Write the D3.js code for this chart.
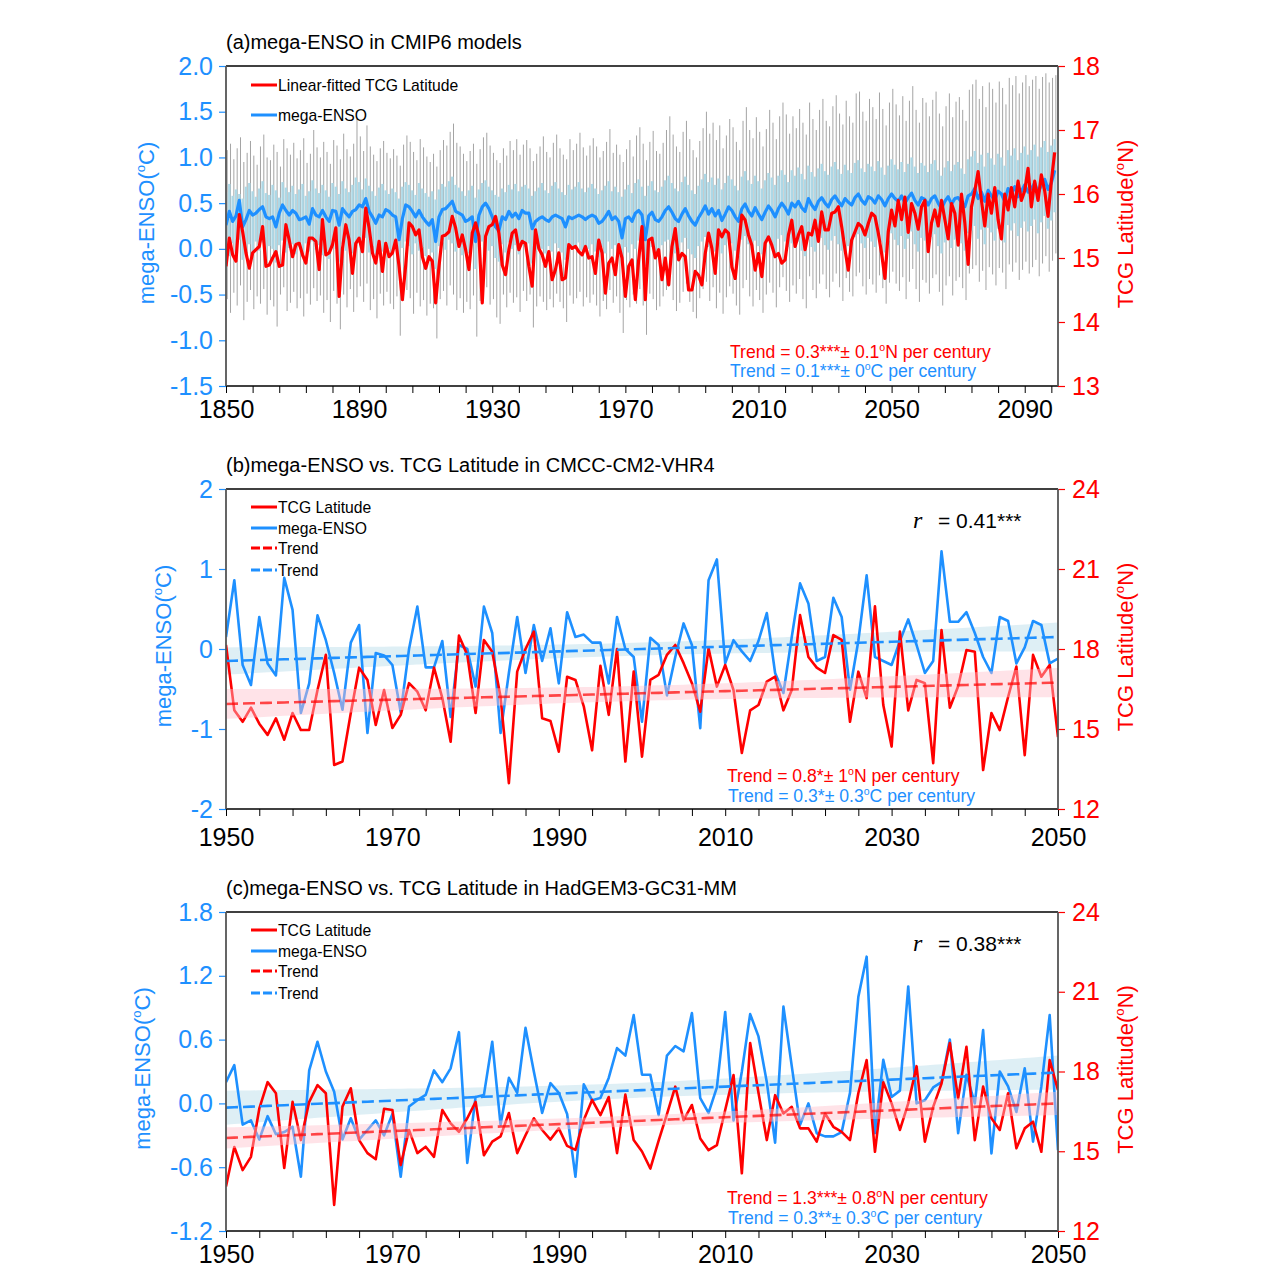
<!DOCTYPE html>
<html lang="en">
<head>
<meta charset="UTF-8">
<title>mega-ENSO and TCG Latitude</title>
<script src="https://cdn.jsdelivr.net/npm/d3@7"></script>
<style>
  body { margin: 0; background: #fff; }
  svg { font-family: "Liberation Sans", Arial, Helvetica, sans-serif; }
</style>
</head>
<body>
<svg id="svg" width="1269" height="1269"></svg>
<script>
// ---------- panel (a): CMIP6 multi-model, 1850-2099 ----------
const yearsA = d3.range(1850, 2100)
const megaEnsoA = [
  0.26,0.41,0.30,0.36,0.53,0.24,0.32,0.42,0.37,0.39,
  0.43,0.46,0.35,0.33,0.35,0.24,0.39,0.48,0.42,0.37,
  0.42,0.39,0.32,0.33,0.35,0.27,0.44,0.37,0.35,0.42,
  0.35,0.30,0.42,0.41,0.26,0.44,0.39,0.35,0.41,0.43,
  0.48,0.46,0.55,0.41,0.35,0.28,0.37,0.35,0.43,0.41,
  0.37,0.35,0.10,0.33,0.48,0.46,0.41,0.35,0.42,0.35,
  0.30,0.26,0.32,0.08,0.35,0.43,0.44,0.48,0.52,0.41,
  0.39,0.37,0.30,0.32,0.35,0.08,0.37,0.46,0.50,0.44,
  0.35,0.24,0.20,0.35,0.32,0.41,0.35,0.39,0.33,0.42,
  0.39,0.39,0.22,0.30,0.33,0.35,0.32,0.30,0.35,0.37,
  0.35,0.33,0.24,0.35,0.33,0.35,0.37,0.35,0.32,0.35,
  0.37,0.35,0.28,0.30,0.35,0.41,0.32,0.35,0.30,0.12,
  0.33,0.35,0.30,0.39,0.42,0.37,0.10,0.36,0.40,0.32,
  0.30,0.35,0.42,0.46,0.40,0.33,0.30,0.38,0.44,0.36,
  0.30,0.26,0.34,0.40,0.47,0.38,0.44,0.36,0.42,0.31,
  0.38,0.46,0.42,0.35,0.30,0.44,0.49,0.41,0.36,0.45,
  0.38,0.32,0.40,0.47,0.42,0.35,0.44,0.50,0.45,0.38,
  0.50,0.46,0.52,0.45,0.41,0.55,0.48,0.43,0.52,0.56,
  0.50,0.46,0.54,0.58,0.52,0.47,0.55,0.51,0.48,0.56,
  0.60,0.53,0.49,0.57,0.55,0.50,0.58,0.54,0.47,0.55,
  0.60,0.55,0.52,0.58,0.50,0.56,0.61,0.53,0.48,0.56,
  0.54,0.48,0.55,0.58,0.50,0.44,0.52,0.57,0.49,0.55,
  0.56,0.51,0.46,0.58,0.60,0.66,0.55,0.62,0.52,0.64,
  0.58,0.53,0.63,0.60,0.52,0.66,0.61,0.68,0.57,0.63,
  0.70,0.62,0.66,0.72,0.61,0.70,0.76,0.65,0.72,0.86
]
const tcgLatA = [
  14.87,15.31,15.05,14.95,15.68,15.41,15.08,14.84,15.08,15.13,
  15.18,15.49,14.87,14.89,15.00,15.10,14.87,14.89,15.52,15.28,
  15.02,15.21,15.23,15.05,14.92,15.31,15.31,15.26,14.82,15.60,
  15.05,15.08,15.21,15.47,14.40,15.15,15.52,15.28,14.76,15.23,
  15.31,15.10,15.78,15.47,15.08,14.92,15.26,14.79,15.23,15.02,
  15.08,15.28,14.87,14.35,14.89,15.55,15.49,15.36,15.44,15.02,
  14.84,15.02,14.95,14.30,14.87,15.34,15.36,15.41,15.65,15.47,
  15.18,15.36,15.13,14.82,15.39,15.55,15.34,14.30,15.34,15.49,
  15.52,15.65,15.39,14.89,14.74,15.13,15.39,15.44,15.13,15.26,
  15.23,14.87,14.56,15.44,15.15,15.05,14.87,15.10,14.66,14.82,
  15.08,14.66,14.69,15.21,15.15,15.18,15.10,15.05,15.18,15.00,
  15.02,14.76,15.28,15.08,14.45,14.92,15.00,14.74,15.21,15.00,
  14.40,14.87,14.97,14.35,14.97,15.49,14.35,15.28,15.31,15.00,
  15.13,14.66,15.00,14.58,15.18,15.46,14.97,15.07,15.02,14.50,
  14.50,14.79,14.73,14.58,15.07,15.39,15.15,14.76,15.44,15.33,
  15.44,15.39,14.86,14.68,15.18,15.67,15.59,15.36,15.20,14.81,
  15.07,14.71,15.23,15.33,15.20,15.02,15.07,14.92,14.97,15.36,
  15.59,15.18,15.36,15.49,15.13,15.39,15.36,15.59,15.26,15.72,
  15.44,15.44,15.70,15.72,15.80,15.49,15.13,14.81,15.28,15.41,
  15.54,15.49,15.36,15.54,15.70,15.65,15.39,15.07,14.68,15.41,
  15.75,15.50,15.90,15.60,15.95,15.40,15.85,15.70,15.45,15.80,
  15.90,15.10,15.55,15.75,15.50,15.90,15.60,15.30,15.85,15.70,
  15.20,16.00,15.55,14.90,15.80,16.05,16.35,15.90,15.50,16.00,
  15.70,16.10,15.60,15.30,16.00,15.75,16.10,15.80,16.20,15.90,
  16.05,16.40,15.80,16.20,15.90,16.30,16.05,15.65,16.20,16.65
]
// model spread: box 25-75 %, whiskers min-max
const boxTopA = [
  0.62,0.71,0.58,0.65,0.60,0.55,0.68,0.72,0.63,0.57,
  0.66,0.74,0.61,0.59,0.70,0.64,0.56,0.73,0.67,0.62,
  0.69,0.60,0.65,0.71,0.58,0.63,0.75,0.66,0.61,0.70,
  0.64,0.57,0.72,0.68,0.60,0.74,0.66,0.62,0.70,0.78,
  0.73,0.65,0.77,0.69,0.63,0.58,0.67,0.71,0.64,0.60,
  0.66,0.62,0.55,0.68,0.73,0.70,0.64,0.59,0.72,0.66,
  0.61,0.57,0.63,0.54,0.65,0.71,0.68,0.74,0.79,0.70,
  0.67,0.63,0.58,0.64,0.69,0.56,0.65,0.72,0.75,0.68,
  0.64,0.59,0.57,0.66,0.62,0.70,0.65,0.71,0.63,0.68,
  0.70,0.66,0.58,0.63,0.67,0.72,0.64,0.61,0.69,0.73,
  0.66,0.62,0.59,0.70,0.65,0.68,0.73,0.66,0.62,0.67,
  0.71,0.66,0.60,0.64,0.69,0.74,0.63,0.68,0.62,0.57,
  0.65,0.70,0.61,0.72,0.76,0.68,0.58,0.69,0.74,0.64,
  0.62,0.68,0.75,0.80,0.72,0.66,0.63,0.73,0.79,0.70,
  0.64,0.60,0.69,0.76,0.82,0.73,0.78,0.70,0.77,0.65,
  0.72,0.80,0.76,0.69,0.64,0.79,0.85,0.75,0.71,0.80,
  0.74,0.66,0.75,0.83,0.78,0.70,0.80,0.86,0.81,0.73,
  0.86,0.80,0.89,0.82,0.76,0.91,0.84,0.79,0.88,0.93,
  0.85,0.81,0.90,0.95,0.87,0.82,0.92,0.86,0.83,0.94,
  0.97,0.88,0.84,0.93,0.90,0.85,0.96,0.89,0.81,0.91,
  0.98,0.92,0.87,0.95,0.84,0.93,1.00,0.90,0.83,0.94,
  0.91,0.84,0.93,0.97,0.86,0.80,0.89,0.96,0.85,0.92,
  0.95,0.88,0.82,0.98,1.01,1.07,0.94,1.03,0.90,1.05,
  0.99,0.92,1.04,1.00,0.91,1.08,1.02,1.10,0.97,1.05,
  1.12,1.03,1.08,1.14,1.01,1.11,1.18,1.06,1.13,1.20
]
const boxBotA = [
  0.02,-0.08,0.06,-0.03,0.10,-0.12,0.00,0.05,-0.05,0.08,
  -0.02,0.07,-0.10,0.03,0.00,-0.15,0.04,0.09,-0.04,0.01,
  0.05,-0.06,0.02,-0.09,0.06,-0.03,0.08,-0.01,0.04,-0.07,
  0.03,-0.11,0.07,0.00,-0.14,0.05,-0.02,0.09,-0.05,0.06,
  0.10,0.02,0.12,-0.04,0.03,-0.10,0.05,-0.03,0.07,0.00,
  -0.05,0.04,-0.20,0.01,0.08,0.03,-0.06,0.06,-0.02,0.02,
  -0.08,0.00,-0.04,-0.22,0.03,0.07,-0.01,0.10,0.06,-0.03,
  0.04,-0.07,0.01,-0.05,0.05,-0.22,0.02,0.08,0.12,-0.02,
  0.03,-0.10,-0.14,0.05,-0.04,0.07,0.00,0.04,-0.06,0.08,
  0.02,0.06,-0.16,-0.02,0.04,0.00,-0.05,0.03,-0.03,0.06,
  0.01,-0.04,-0.12,0.05,0.00,0.03,0.07,-0.02,0.04,0.00,
  0.05,-0.03,-0.09,0.02,-0.05,0.08,0.00,0.04,-0.07,-0.18,
  0.02,-0.04,0.05,0.00,0.09,-0.03,-0.19,0.06,0.02,-0.06,
  -0.02,0.04,0.08,0.10,0.02,-0.05,0.01,0.07,0.12,0.00,
  -0.06,-0.10,0.03,0.08,0.13,0.02,0.09,-0.03,0.07,-0.05,
  0.04,0.11,0.06,-0.02,-0.08,0.10,0.14,0.05,-0.01,0.09,
  0.03,-0.06,0.07,0.13,0.04,-0.04,0.11,0.15,0.08,0.02,
  0.06,0.01,0.08,-0.02,-0.08,0.10,0.02,-0.03,0.07,0.12,
  0.04,-0.01,0.09,0.14,0.05,-0.02,0.11,0.03,0.00,0.13,
  0.16,0.06,0.01,0.12,0.08,0.02,0.15,0.07,-0.04,0.09,
  0.17,0.10,0.04,0.14,0.00,0.11,0.19,0.05,-0.03,0.12,
  0.09,0.02,0.13,0.16,0.03,-0.05,0.07,0.15,0.01,0.10,
  0.14,0.06,-0.02,0.17,0.20,0.25,0.11,0.21,0.05,0.23,
  0.18,0.09,0.22,0.19,0.07,0.26,0.20,0.28,0.14,0.23,
  0.30,0.19,0.25,0.32,0.17,0.29,0.36,0.22,0.31,0.40
]
const whiskHiA = [
  1.08,1.15,0.98,1.10,1.22,0.95,1.05,1.18,1.02,0.92,
  1.12,1.25,1.00,0.97,1.14,1.06,0.90,1.20,1.10,1.03,
  1.16,0.99,1.08,1.21,0.94,1.04,1.30,1.11,1.00,1.17,
  1.06,0.93,1.19,1.13,0.98,1.26,1.09,1.01,1.15,1.42,
  1.23,1.07,1.35,1.12,1.03,0.96,1.10,1.18,1.05,0.99,
  1.09,1.02,0.91,1.14,1.24,1.17,1.06,0.97,1.20,1.11,
  1.01,0.95,1.04,0.90,1.08,1.19,1.13,1.28,1.37,1.16,
  1.12,1.04,0.96,1.07,1.15,0.93,1.09,1.22,1.27,1.13,
  1.05,0.97,0.94,1.10,1.02,1.18,1.08,1.20,1.03,1.14,
  1.19,1.10,0.96,1.04,1.12,1.23,1.06,1.00,1.16,1.25,
  1.10,1.03,0.98,1.20,1.08,1.15,1.27,1.11,1.02,1.13,
  1.21,1.12,1.00,1.07,1.17,1.31,1.05,1.14,1.03,0.95,
  1.09,1.19,1.01,1.24,1.33,1.15,0.97,1.17,1.29,1.07,
  1.04,1.16,1.30,1.45,1.25,1.12,1.06,1.28,1.40,1.20,
  1.08,1.00,1.18,1.32,1.50,1.26,1.38,1.19,1.35,1.10,
  1.24,1.42,1.33,1.17,1.08,1.40,1.55,1.30,1.21,1.44,
  1.28,1.12,1.31,1.52,1.38,1.20,1.45,1.60,1.47,1.26,
  1.45,1.32,1.53,1.38,1.25,1.60,1.42,1.30,1.52,1.64,
  1.40,1.34,1.56,1.68,1.48,1.36,1.62,1.45,1.38,1.70,
  1.72,1.50,1.40,1.64,1.55,1.42,1.71,1.53,1.35,1.60,
  1.75,1.58,1.46,1.67,1.40,1.62,1.78,1.52,1.38,1.65,
  1.60,1.45,1.63,1.72,1.48,1.34,1.56,1.70,1.44,1.61,
  1.66,1.52,1.40,1.74,1.80,1.85,1.64,1.78,1.55,1.82,
  1.75,1.60,1.83,1.76,1.58,1.87,1.79,1.89,1.70,1.82,
  1.90,1.78,1.85,1.89,1.75,1.88,1.92,1.82,1.87,1.90
]
const whiskLoA = [
  -0.55,-0.70,-0.48,-0.62,-0.40,-0.78,-0.58,-0.45,-0.66,-0.52,
  -0.60,-0.44,-0.72,-0.56,-0.63,-0.85,-0.50,-0.42,-0.68,-0.59,
  -0.47,-0.65,-0.54,-0.74,-0.49,-0.61,-0.43,-0.57,-0.51,-0.70,
  -0.56,-0.80,-0.46,-0.60,-0.88,-0.50,-0.64,-0.44,-0.69,-0.53,
  -0.41,-0.58,-0.38,-0.67,-0.55,-0.76,-0.49,-0.62,-0.47,-0.60,
  -0.66,-0.52,-0.95,-0.57,-0.45,-0.54,-0.71,-0.48,-0.63,-0.56,
  -0.73,-0.60,-0.65,-0.98,-0.55,-0.46,-0.62,-0.40,-0.50,-0.67,
  -0.54,-0.70,-0.58,-0.66,-0.51,-0.96,-0.57,-0.47,-0.42,-0.61,
  -0.55,-0.75,-0.82,-0.50,-0.64,-0.48,-0.59,-0.53,-0.69,-0.46,
  -0.57,-0.50,-0.86,-0.63,-0.52,-0.58,-0.67,-0.55,-0.64,-0.49,
  -0.58,-0.65,-0.80,-0.51,-0.60,-0.54,-0.47,-0.63,-0.53,-0.59,
  -0.50,-0.62,-0.74,-0.57,-0.66,-0.45,-0.59,-0.52,-0.70,-0.92,
  -0.56,-0.64,-0.50,-0.60,-0.44,-0.62,-0.94,-0.49,-0.55,-0.67,
  -0.63,-0.52,-0.45,-0.40,-0.56,-0.68,-0.59,-0.47,-0.38,-0.58,
  -0.69,-0.76,-0.54,-0.44,-0.36,-0.57,-0.42,-0.65,-0.48,-0.71,
  -0.53,-0.41,-0.49,-0.62,-0.72,-0.43,-0.34,-0.52,-0.63,-0.45,
  -0.56,-0.70,-0.50,-0.37,-0.48,-0.64,-0.42,-0.31,-0.46,-0.58,
  -0.40,-0.49,-0.33,-0.55,-0.65,-0.30,-0.45,-0.54,-0.38,-0.28,
  -0.44,-0.53,-0.36,-0.27,-0.42,-0.57,-0.32,-0.47,-0.52,-0.30,
  -0.26,-0.41,-0.50,-0.33,-0.39,-0.48,-0.29,-0.43,-0.60,-0.37,
  -0.25,-0.38,-0.46,-0.31,-0.55,-0.36,-0.22,-0.44,-0.58,-0.34,
  -0.37,-0.49,-0.32,-0.28,-0.47,-0.62,-0.40,-0.30,-0.51,-0.35,
  -0.31,-0.43,-0.56,-0.27,-0.22,-0.18,-0.36,-0.24,-0.45,-0.20,
  -0.28,-0.40,-0.21,-0.26,-0.44,-0.17,-0.25,-0.15,-0.34,-0.23,
  -0.14,-0.27,-0.20,-0.12,-0.30,-0.16,-0.08,-0.25,-0.13,-0.05
]

// ---------- panels (b) and (c): single models, 1950-2050 ----------
const yearsBC = d3.range(1950, 2051)
const megaEnsoB = [
  0.15,0.86,-0.20,-0.45,0.40,-0.18,-0.33,0.89,0.49,-0.80,
  -0.43,0.42,0.11,-0.30,-0.76,0.08,0.30,-1.05,-0.05,-0.08,
  -0.20,-0.79,0.00,0.53,-0.23,-0.23,0.10,-0.85,0.05,0.00,
  -0.47,0.53,0.20,-1.05,-0.30,0.40,-0.30,0.30,-0.15,0.26,
  -0.43,0.46,0.15,0.18,0.08,0.08,-0.43,0.40,0.00,-0.10,
  -0.91,0.14,0.05,-0.58,-0.10,0.32,0.05,-0.99,0.86,1.12,
  -0.18,0.11,-0.03,-0.15,0.10,0.45,-0.30,-0.55,0.15,0.82,
  0.57,-0.15,-0.10,0.64,0.40,-0.51,0.10,0.92,-0.10,-0.15,
  -0.20,0.10,0.37,0.05,-0.30,-0.15,1.22,0.34,0.34,0.46,
  0.20,-0.10,-0.30,0.40,0.35,-0.18,0.02,0.35,0.30,-0.18,
  -0.12
]
const tcgLatB = [
  18.15,15.70,15.27,15.80,15.20,14.78,15.40,14.60,15.60,14.96,
  14.96,16.46,17.78,13.65,13.78,15.60,17.30,16.84,15.15,16.46,
  15.04,15.53,16.72,16.40,15.70,17.30,16.16,14.52,18.50,17.78,
  15.60,18.34,17.90,16.20,12.97,17.15,18.00,18.65,15.40,15.30,
  14.15,16.96,16.84,15.85,14.20,17.37,15.53,18.00,13.78,17.15,
  13.96,16.84,17.03,17.78,18.15,17.47,16.72,15.65,18.03,16.59,
  17.40,16.46,14.10,15.70,15.90,16.78,16.96,15.70,16.46,19.27,
  17.70,17.30,17.10,18.52,18.34,15.27,17.15,16.16,19.60,15.90,
  14.34,18.65,15.70,16.84,16.72,13.72,18.71,15.80,16.60,17.96,
  17.90,13.46,15.60,14.96,16.20,17.34,14.02,17.78,16.96,17.40,
  14.70
]
const megaEnsoC = [
  0.20,0.36,-0.20,-0.16,-0.34,-0.12,-0.29,-0.27,-0.22,-0.69,
  0.31,0.58,0.30,0.11,-0.34,-0.14,-0.34,-0.25,-0.16,-0.30,
  -0.10,-0.69,-0.03,0.03,0.08,0.31,0.20,0.33,0.67,-0.56,
  0.06,0.08,0.58,-0.20,0.24,0.10,0.71,0.30,-0.09,0.19,
  0.10,-0.10,-0.69,0.18,0.03,0.05,0.24,0.52,0.45,0.83,
  0.27,0.27,-0.11,0.45,0.54,0.49,0.85,0.05,-0.09,0.15,
  0.86,-0.16,0.30,0.84,0.63,0.20,-0.37,0.91,0.35,-0.20,
  0.00,-0.28,-0.31,-0.31,-0.27,0.10,1.00,1.38,-0.28,0.41,
  0.06,0.12,1.10,0.00,0.03,0.15,0.20,0.60,-0.28,0.27,
  0.00,0.69,-0.47,0.30,0.16,-0.08,0.33,-0.36,0.16,0.83,
  -0.44
]
const tcgLatC = [
  13.67,15.16,14.29,14.79,16.60,17.60,17.18,14.37,16.86,15.42,
  16.86,17.49,17.18,12.98,16.68,17.37,15.42,14.93,14.70,16.60,
  16.55,14.48,15.80,14.93,15.17,14.79,16.55,16.05,15.73,16.24,
  16.86,14.85,15.36,15.56,16.44,14.93,15.60,16.24,15.80,15.44,
  15.86,15.20,15.05,16.18,16.93,16.36,17.04,14.93,17.13,15.42,
  14.99,14.35,15.40,16.40,17.43,16.17,16.74,15.48,15.04,15.23,
  16.55,17.87,14.17,19.07,17.20,15.42,17.11,16.42,16.67,15.86,
  15.86,15.36,16.42,15.92,15.73,15.42,17.18,18.43,14.98,17.60,
  16.80,15.80,16.80,18.20,15.36,16.67,17.55,19.07,16.99,18.93,
  15.42,17.43,16.24,15.80,17.18,15.11,15.86,16.11,14.98,18.43,
  17.30
]
// linear trends: value at 1950 and 2050; confidence half-width at 1950, 2000, 2050
const trendEnsoB = [-0.15, 0.15], bandEnsoB = [0.17, 0.08, 0.18]
const trendLatB = [15.94, 16.74], bandLatB = [0.56, 0.28, 0.55]
const trendEnsoC = [-0.04, 0.29], bandEnsoC = [0.16, 0.07, 0.16]
const trendLatC = [15.5, 16.8], bandLatC = [0.40, 0.20, 0.44]

// tick labels
const leftTicksA = [-1.5, -1, -0.5, 0, 0.5, 1, 1.5, 2]
const rightTicksA = [13, 14, 15, 16, 17, 18]
const leftTicksB = [-2, -1, 0, 1, 2]
const leftTicksC = [-1.2, -0.6, 0, 0.6, 1.2, 1.8]
const rightTicksBC = [12, 15, 18, 21, 24]

const BLUE = '#1e90ff', RED = '#ff0000'
const FONT = '"Liberation Sans", Arial, Helvetica, sans-serif'
const svg = d3.select('#svg')
const L = 226, R = 1058

function supText(g, x, y, size, color, pre, post, rotate) {
  const t = g.append('text').attr('font-size', size).attr('fill', color)
  if (rotate) t.attr('transform', `translate(${x},${y}) rotate(-90)`).attr('text-anchor', 'middle')
  else t.attr('x', x).attr('y', y)
  t.append('tspan').text(pre)
  t.append('tspan').attr('font-size', size * 0.6).attr('dy', -size * 0.42).text('o')
  t.append('tspan').attr('dy', size * 0.42).text(post)
  return t
}

function axes(id, x, yL, yR, xTicks, every, lTicks, lFmt, rTicks, labX, xPad) {
  const top = yL.range()[1], bot = yL.range()[0]
  svg.append('defs').append('clipPath').attr('id', id)
    .append('rect').attr('x', L).attr('y', top).attr('width', R - L).attr('height', bot - top)

  svg.append('g').attr('transform', `translate(0,${bot})`)
    .call(d3.axisBottom(x).tickValues(xTicks).tickSize(7).tickPadding(xPad)
      .tickFormat(d => (d - xTicks[0]) % every === 0 ? d : ''))
    .call(g => g.select('.domain').remove())
    .attr('font-family', FONT).attr('font-size', 25)
    .call(g => g.selectAll('line').attr('stroke', '#000'))
    .call(g => g.selectAll('text').attr('fill', '#000'))

  svg.append('g').attr('transform', `translate(${L},0)`)
    .call(d3.axisLeft(yL).tickValues(lTicks).tickSize(7).tickPadding(6).tickFormat(lFmt))
    .call(g => g.select('.domain').remove())
    .attr('font-family', FONT).attr('font-size', 25)
    .call(g => g.selectAll('line').attr('stroke', BLUE).attr('stroke-width', 1.2))
    .call(g => g.selectAll('text').attr('fill', BLUE))

  svg.append('g').attr('transform', `translate(${R},0)`)
    .call(d3.axisRight(yR).tickValues(rTicks).tickSize(7).tickPadding(7).tickFormat(d => d))
    .call(g => g.select('.domain').remove())
    .attr('font-family', FONT).attr('font-size', 25)
    .call(g => g.selectAll('line').attr('stroke', RED).attr('stroke-width', 1.2))
    .call(g => g.selectAll('text').attr('fill', RED))

  const mid = (top + bot) / 2
  supText(svg, labX, mid - 3, 22, BLUE, 'mega-ENSO(', 'C)', true)
  supText(svg, 1133, mid - 2, 22, RED, 'TCG Latitude(', 'N)', true)
}

function frame(yL) {
  const top = yL.range()[1], bot = yL.range()[0]
  svg.append('line').attr('x1', L).attr('x2', R).attr('y1', top).attr('y2', top).attr('stroke', '#000').attr('stroke-width', 1.3)
  svg.append('line').attr('x1', L).attr('x2', R).attr('y1', bot).attr('y2', bot).attr('stroke', '#000').attr('stroke-width', 1.3)
  svg.append('line').attr('x1', L).attr('x2', L).attr('y1', top).attr('y2', bot).attr('stroke', '#555').attr('stroke-width', 1.8)
  svg.append('line').attr('x1', R).attr('x2', R).attr('y1', top).attr('y2', bot).attr('stroke', '#555').attr('stroke-width', 1.8)
}

function legendRow(x0, y, color, dashed, label) {
  svg.append('line').attr('x1', x0).attr('x2', x0 + 26).attr('y1', y).attr('y2', y)
    .attr('stroke', color).attr('stroke-width', 3)
    .attr('stroke-dasharray', dashed ? '9,3' : null)
  svg.append('text').attr('x', x0 + 27).attr('y', y + 6).attr('font-size', 15.7).attr('fill', '#000').text(label)
}

// ================= panel (a) =================
const xA = d3.scaleLinear().domain([1850, 2100]).range([L, R])
const yA = d3.scaleLinear().domain([-1.5, 2]).range([386, 66])
const yAr = d3.scaleLinear().domain([13, 18]).range([386, 66])

svg.append('text').attr('x', L).attr('y', 49).attr('font-size', 20).text('(a)mega-ENSO in CMIP6 models')
axes('clipA', xA, yA, yAr, d3.range(1850, 2100, 8), 40, leftTicksA, d => d.toFixed(1), rightTicksA, 154, 7)

const gA = svg.append('g').attr('clip-path', 'url(#clipA)')
const bw = (xA(1851) - xA(1850)) * 0.74
gA.selectAll('line.whisk').data(yearsA).join('line').attr('class', 'whisk')
  .attr('x1', d => xA(d) + 1.2).attr('x2', d => xA(d) + 1.2)
  .attr('y1', (d, i) => yA(whiskHiA[i])).attr('y2', (d, i) => yA(whiskLoA[i]))
  .attr('stroke', '#666').attr('stroke-width', 0.6)
gA.selectAll('rect.box').data(yearsA).join('rect').attr('class', 'box')
  .attr('x', d => xA(d) - bw / 2).attr('width', bw)
  .attr('y', (d, i) => yA(boxTopA[i]))
  .attr('height', (d, i) => yA(boxBotA[i]) - yA(boxTopA[i]))
  .attr('fill', '#add8e6')

gA.append('path').datum(megaEnsoA)
  .attr('d', d3.line().x((d, i) => xA(yearsA[i])).y(d => yA(d)))
  .attr('fill', 'none').attr('stroke', BLUE).attr('stroke-width', 3.2).attr('stroke-linejoin', 'round')
gA.append('path').datum(tcgLatA)
  .attr('d', d3.line().x((d, i) => xA(yearsA[i])).y(d => yAr(d)))
  .attr('fill', 'none').attr('stroke', RED).attr('stroke-width', 3.2).attr('stroke-linejoin', 'round')
frame(yA)

legendRow(251, 85, RED, false, 'Linear-fitted TCG Latitude')
legendRow(251, 115, BLUE, false, 'mega-ENSO')
supText(svg, 730, 358, 17.6, RED, 'Trend = 0.3***\u00b1 0.1', 'N per century')
supText(svg, 730, 377, 17.6, BLUE, 'Trend = 0.1***\u00b1 0', 'C per century')

// ================= panels (b), (c) =================
function halfWidth(yr, h) {
  const t = (yr - 2000) / 50, he = t < 0 ? h[0] : h[2]
  return Math.sqrt(h[1] * h[1] + (he * he - h[1] * h[1]) * t * t)
}
function trendAt(yr, tr) { return tr[0] + (tr[1] - tr[0]) * (yr - 1950) / 100 }

function panel(cfg) {
  const x = d3.scaleLinear().domain([1950, 2050]).range([L, R])
  const yL = d3.scaleLinear().domain(cfg.lDom).range([cfg.bot, cfg.top])
  const yR = d3.scaleLinear().domain([12, 24]).range([cfg.bot, cfg.top])
  svg.append('text').attr('x', L).attr('y', cfg.top - 17).attr('font-size', 20).text(cfg.title)
  axes(cfg.id, x, yL, yR, d3.range(1950, 2051, 4), 20, cfg.lTicks, cfg.lFmt, rightTicksBC, cfg.labX, cfg.xPad)

  const g = svg.append('g').attr('clip-path', `url(#${cfg.id})`)
  const band = (y, tr, h) => d3.area().x(d => x(d))
    .y0(d => y(trendAt(d, tr) - halfWidth(d, h))).y1(d => y(trendAt(d, tr) + halfWidth(d, h)))
  g.append('path').datum(yearsBC).attr('d', band(yL, cfg.trendE, cfg.bandE))
    .attr('fill', '#add8e6').attr('fill-opacity', 0.4)
  g.append('path').datum(cfg.enso)
    .attr('d', d3.line().x((d, i) => x(yearsBC[i])).y(d => yL(d)))
    .attr('fill', 'none').attr('stroke', BLUE).attr('stroke-width', 2.6).attr('stroke-linejoin', 'round')
  g.append('path').datum(cfg.lat)
    .attr('d', d3.line().x((d, i) => x(yearsBC[i])).y(d => yR(d)))
    .attr('fill', 'none').attr('stroke', RED).attr('stroke-width', 2.6).attr('stroke-linejoin', 'round')
  g.append('path').datum(yearsBC).attr('d', band(yR, cfg.trendL, cfg.bandL))
    .attr('fill', '#ffc0cb').attr('fill-opacity', 0.45)
  g.append('path').datum(yearsBC)
    .attr('d', d3.line().x(d => x(d)).y(d => yL(trendAt(d, cfg.trendE))))
    .attr('fill', 'none').attr('stroke', BLUE).attr('stroke-width', 2.6).attr('stroke-dasharray', '12,5')
  g.append('path').datum(yearsBC)
    .attr('d', d3.line().x(d => x(d)).y(d => yR(trendAt(d, cfg.trendL))))
    .attr('fill', 'none').attr('stroke', RED).attr('stroke-opacity', 0.7).attr('stroke-width', 2.6).attr('stroke-dasharray', '12,5')
  frame(yL)

  const ly = cfg.top + 18
  legendRow(251, ly, RED, false, 'TCG Latitude')
  legendRow(251, ly + 21, BLUE, false, 'mega-ENSO')
  legendRow(251, ly + 41, RED, true, 'Trend')
  legendRow(251, ly + 63, BLUE, true, 'Trend')

  const ry = cfg.top + 39
  svg.append('text').attr('x', 913).attr('y', ry).attr('font-size', 24)
    .attr('font-family', '"Liberation Serif", "DejaVu Serif", serif').attr('font-style', 'italic').text('r')
  svg.append('text').attr('x', 938).attr('y', ry).attr('font-size', 21).text(cfg.r)
  supText(svg, 727, cfg.bot - 27, 17.6, RED, cfg.trendTxtL[0], cfg.trendTxtL[1])
  supText(svg, 728, cfg.bot - 7, 17.6, BLUE, cfg.trendTxtE[0], cfg.trendTxtE[1])
}

panel({
  id: 'clipB', top: 489, bot: 809, lDom: [-2, 2], lTicks: leftTicksB, lFmt: d => d, labX: 171, xPad: 12,
  title: '(b)mega-ENSO vs. TCG Latitude in CMCC-CM2-VHR4',
  enso: megaEnsoB, lat: tcgLatB, trendE: trendEnsoB, bandE: bandEnsoB, trendL: trendLatB, bandL: bandLatB,
  r: '= 0.41***',
  trendTxtL: ['Trend = 0.8*\u00b1 1', 'N per century'],
  trendTxtE: ['Trend = 0.3*\u00b1 0.3', 'C per century']
})
panel({
  id: 'clipC', top: 912, bot: 1231, lDom: [-1.2, 1.8], lTicks: leftTicksC, lFmt: d => d.toFixed(1), labX: 150, xPad: 7,
  title: '(c)mega-ENSO vs. TCG Latitude in HadGEM3-GC31-MM',
  enso: megaEnsoC, lat: tcgLatC, trendE: trendEnsoC, bandE: bandEnsoC, trendL: trendLatC, bandL: bandLatC,
  r: '= 0.38***',
  trendTxtL: ['Trend = 1.3***\u00b1 0.8', 'N per century'],
  trendTxtE: ['Trend = 0.3**\u00b1 0.3', 'C per century']
})
</script>
</body>
</html>
